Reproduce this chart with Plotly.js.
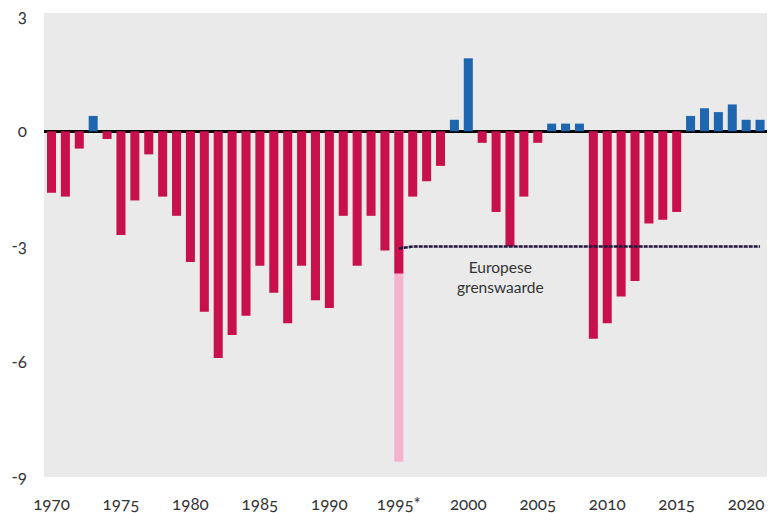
<!DOCTYPE html>
<html>
<head>
<meta charset="utf-8">
<script src="https://cdn.plot.ly/plotly-3.0.1.min.js"></script>
<style>
  html, body { margin: 0; padding: 0; background: #ffffff; }
  #chart { width: 768px; height: 513px; }
  .xtick text, .ytick text, .annotation-text {
    font-feature-settings: "onum" 1;
    font-variant-numeric: oldstyle-nums;
  }
</style>
</head>
<body>
<div id="chart"></div>
<script>
// EMU-saldo (% bbp), 1970-2021
const years = [1970,1971,1972,1973,1974,1975,1976,1977,1978,1979,
               1980,1981,1982,1983,1984,1985,1986,1987,1988,1989,
               1990,1991,1992,1993,1994,1995,1996,1997,1998,1999,
               2000,2001,2002,2003,2004,2005,2006,2007,2008,2009,
               2010,2011,2012,2013,2014,2015,2016,2017,2018,2019,
               2020,2021];
const balance = [-1.6,-1.7,-0.45,0.4,-0.2,-2.7,-1.8,-0.6,-1.7,-2.2,
                 -3.4,-4.7,-5.9,-5.3,-4.8,-3.5,-4.2,-5.0,-3.5,-4.4,
                 -4.6,-2.2,-3.5,-2.2,-3.1,-3.7,-1.7,-1.3,-0.9,0.3,
                 1.9,-0.3,-2.1,-3.0,-1.7,-0.3,0.2,0.2,0.2,-5.4,
                 -5.0,-4.3,-3.9,-2.4,-2.3,-2.1,0.4,0.6,0.5,0.7,
                 0.3,0.3];
// 1995: incl. eenmalige boeking (lichtroze deel)
const oneOffYears = [1995];
const oneOffValues = [-8.6];
// Europese grenswaarde
const limitYears = [1995, 1996, 2021];
const limitValues = [-3.05, -3.0, -3.0];
// Axis ticks
const xTickVals = [1970,1975,1980,1985,1990,1995,2000,2005,2010,2015,2020];
const xTickText = ['1970','1975','1980','1985','1990','1995*','2000','2005','2010','2015','2020'];
const yTickVals = [3, 0, -3, -6, -9];
const yTickText = ['3','0','-3','-6','-9'];

const RED = '#C8104C', BLUE = '#1F66B0', PINK = '#F4B3CE';
const barColors = balance.map(v => v >= 0 ? BLUE : RED);

const traces = [
  {
    type: 'bar', x: oneOffYears, y: oneOffValues,
    marker: { color: PINK }, hoverinfo: 'x+y', showlegend: false
  },
  {
    type: 'bar', x: years, y: balance,
    marker: { color: barColors }, hoverinfo: 'x+y', showlegend: false
  },
  {
    type: 'scatter', mode: 'lines', x: limitYears, y: limitValues,
    line: { color: '#22173D', width: 2.6, dash: '4px,1px' },
    hoverinfo: 'skip', showlegend: false
  }
];

const FONT = 'Lato, "Open Sans", "DejaVu Sans", sans-serif';

const layout = {
  width: 768, height: 513,
  margin: { l: 44, r: 1, t: 13, b: 36 },
  paper_bgcolor: '#ffffff',
  plot_bgcolor: '#EAEAEA',
  barmode: 'overlay',
  bargap: 0.35,
  font: { family: FONT, size: 15, color: '#333333' },
  xaxis: {
    range: [1969.46, 2021.5],
    tickmode: 'array', tickvals: xTickVals, ticktext: xTickText,
    showgrid: false, zeroline: false, showline: false, ticks: '',
    ticklabelstandoff: 15,
    tickfont: { family: FONT, size: 17, color: '#333333' }
  },
  yaxis: {
    range: [-9, 3.08],
    tickmode: 'array', tickvals: yTickVals, ticktext: yTickText,
    showgrid: false, showline: false, ticks: '',
    zeroline: true, zerolinecolor: '#000000', zerolinewidth: 2.5,
    ticklabelstandoff: 16,
    tickfont: { family: FONT, size: 17, color: '#333333' }
  },
  annotations: [
    {
      x: 2002.3, y: -3.8, xref: 'x', yref: 'y',
      text: 'Europese<br>grenswaarde', showarrow: false,
      font: { family: FONT, size: 15.5, color: '#333333' },
      align: 'center'
    }
  ]
};

Plotly.newPlot('chart', traces, layout, { displayModeBar: false, staticPlot: true });
</script>
</body>
</html>
